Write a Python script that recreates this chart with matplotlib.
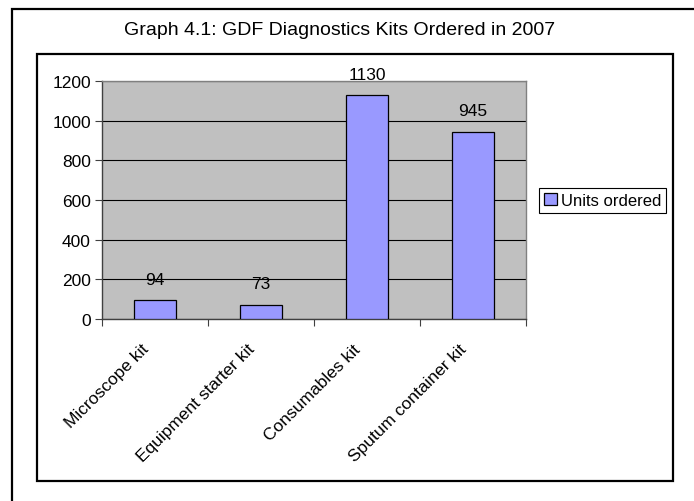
import matplotlib
matplotlib.use("Agg")
import matplotlib.pyplot as plt
from matplotlib.patches import Rectangle

categories = ["Microscope kit", "Equipment starter kit", "Consumables kit", "Sputum container kit"]
units = [94, 73, 1130, 945]
yticks = [0, 200, 400, 600, 800, 1000, 1200]
title = "Graph 4.1: GDF Diagnostics Kits Ordered in 2007"
series_name = "Units ordered"

plt.rcParams['font.family'] = ['Liberation Sans', 'DejaVu Sans']

W, H = 694, 502
fig = plt.figure(figsize=(W / 100, H / 100), dpi=100)

def fx(px):
    return px / W

def fy(py):
    return 1 - py / H

# outer frame
fig.patches.append(Rectangle((fx(12), fy(520)), fx(700) - fx(12), fy(10) - fy(520),
                             transform=fig.transFigure, fill=False, edgecolor='black',
                             linewidth=1.6, zorder=0))
# inner chart frame
fig.patches.append(Rectangle((fx(37), fy(482)), fx(673) - fx(37), fy(55) - fy(482),
                             transform=fig.transFigure, fill=False, edgecolor='black',
                             linewidth=1.6, zorder=0))

fig.text(fx(340), fy(31), title, ha='center', va='center', fontsize=14)

ax = fig.add_axes([fx(102), fy(320), fx(526) - fx(102), fy(82) - fy(320)])
ax.set_facecolor('#C0C0C0')

x = list(range(len(categories)))
bars = ax.bar(x, units, width=0.4, color='#9999FF', edgecolor='black', linewidth=0.9,
              label=series_name, zorder=3)
for xi, v in zip(x, units):
    ax.annotate(str(v), (xi, v), xytext=(0, 9.5), textcoords='offset points',
                ha='center', va='bottom', fontsize=12.5)

ax.set_xlim(-0.5, len(categories) - 0.5)
ax.set_ylim(0, 1200)
ax.set_yticks(yticks)
ax.set_yticklabels([str(t) for t in yticks], fontsize=12.5)
ax.yaxis.grid(True, color='black', linewidth=0.8, zorder=1)
ax.set_axisbelow(True)

ax.set_xticks([i - 0.5 for i in range(len(categories) + 1)])
ax.set_xticklabels([])
for xi, cat in zip(x, categories):
    ax.annotate(cat, xy=(xi, 0), xycoords=('data', 'axes fraction'),
                xytext=(-10, -15.8), textcoords='offset points',
                rotation=45, ha='right', va='top', rotation_mode='anchor',
                fontsize=12.5, annotation_clip=False)
ax.tick_params(axis='x', length=5, width=0.8, color='#404040')
ax.tick_params(axis='y', length=5, width=0.8, color='#404040', pad=3)

for s in ['left', 'bottom']:
    ax.spines[s].set_color('#404040')
    ax.spines[s].set_linewidth(1.0)
for s in ['top', 'right']:
    ax.spines[s].set_color('#808080')
    ax.spines[s].set_linewidth(1.0)

leg = fig.legend(handles=[bars], labels=[series_name], loc='center left',
                 bbox_to_anchor=(fx(539), fy(201.5)), bbox_transform=fig.transFigure,
                 fontsize=12, frameon=True, fancybox=False, edgecolor='black',
                 framealpha=1, borderaxespad=0, borderpad=0.3,
                 handlelength=0.75, handleheight=0.75, handletextpad=0.25)
leg.get_frame().set_linewidth(0.8)

fig.savefig("out.png", dpi=100)
